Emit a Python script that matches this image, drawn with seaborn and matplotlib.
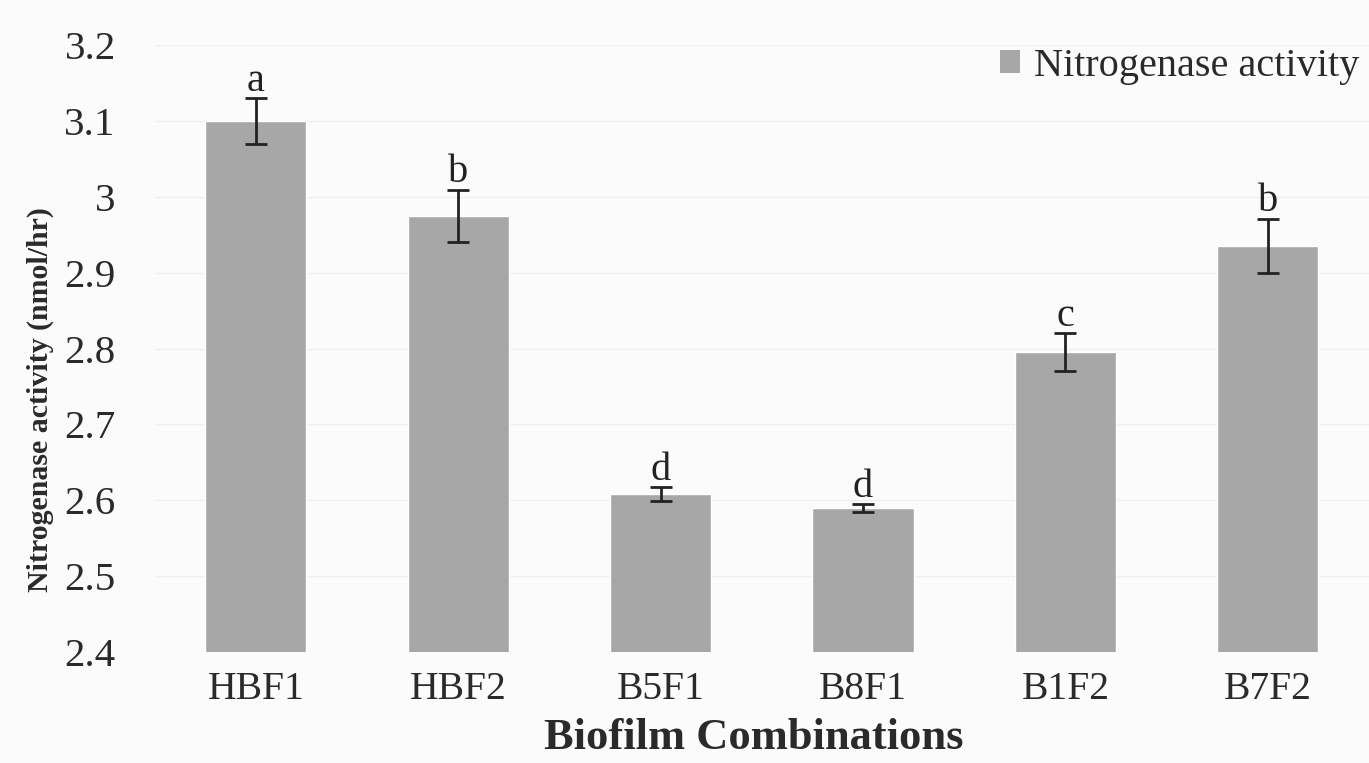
import matplotlib
matplotlib.use("Agg")
import matplotlib.pyplot as plt
import seaborn as sns
import pandas as pd
from matplotlib.patches import Patch

categories = ["HBF1", "HBF2", "B5F1", "B8F1", "B1F2", "B7F2"]
activity = [3.10, 2.975, 2.608, 2.590, 2.795, 2.935]
errors = [0.030, 0.034, 0.009, 0.005, 0.025, 0.036]
letters = ["a", "b", "d", "d", "c", "b"]
yticks = [2.4, 2.5, 2.6, 2.7, 2.8, 2.9, 3.0, 3.1, 3.2]
ytick_labels = ["2.4", "2.5", "2.6", "2.7", "2.8", "2.9", "3", "3.1", "3.2"]

sns.set_theme(style="white")
plt.rcParams["font.family"] = ["Liberation Serif", "DejaVu Serif"]

df = pd.DataFrame({"Combination": categories, "Activity": activity})

fig = plt.figure(figsize=(13.69, 7.63), dpi=100)
fig.patch.set_facecolor("#fbfbfb")
ax = fig.add_axes([0.113, 0.1455, 0.887, 0.7955])
ax.set_facecolor("#fbfbfb")

bar_color = "#a7a7a7"
text_color = "#2a2a2a"
sns.barplot(data=df, x="Combination", y="Activity", color=bar_color,
            width=0.5, errorbar=None, ax=ax, saturation=1)

ax.set_ylim(2.4, 3.2)
ax.set_xlim(-0.5, len(categories) - 0.5)

ax.errorbar(range(len(categories)), activity, yerr=errors, fmt="none",
            ecolor="#222222", elinewidth=2, capsize=8, capthick=2, zorder=5)

for i, (v, e, lt) in enumerate(zip(activity, errors, letters)):
    ax.text(i, v + e - 0.002, lt, ha="center", va="bottom", fontsize=29,
            color="#222222")

ax.set_yticks(yticks)
ax.set_yticklabels(ytick_labels)
ax.yaxis.grid(True, color="#f0f0f0", linewidth=1)
ax.set_axisbelow(True)
for s in ax.spines.values():
    s.set_visible(False)
ax.tick_params(axis="both", length=0, colors=text_color)
ax.tick_params(axis="x", labelsize=28.5, pad=14)
ax.tick_params(axis="y", labelsize=29.5, pad=28)

ax.set_xlabel("Biofilm Combinations", fontsize=32, fontweight="bold",
              color=text_color)
ax.xaxis.set_label_coords(0.493, -0.108)
ax.set_ylabel("")
fig.text(40 / 1369, 1 - 400 / 763, "Nitrogenase activity (nmol/hr)",
         rotation=90, ha="center", va="center", fontsize=21.5,
         fontweight="bold", color=text_color)

leg = ax.legend(handles=[Patch(facecolor=bar_color, edgecolor="none",
                               label="Nitrogenase activity")],
                loc="upper right", bbox_to_anchor=(1.022, 1.055), frameon=False,
                fontsize=29, handlelength=0.5, handleheight=0.5,
                handletextpad=0.35, labelcolor=text_color)

fig.savefig("out.png", dpi=100, facecolor=fig.get_facecolor())
